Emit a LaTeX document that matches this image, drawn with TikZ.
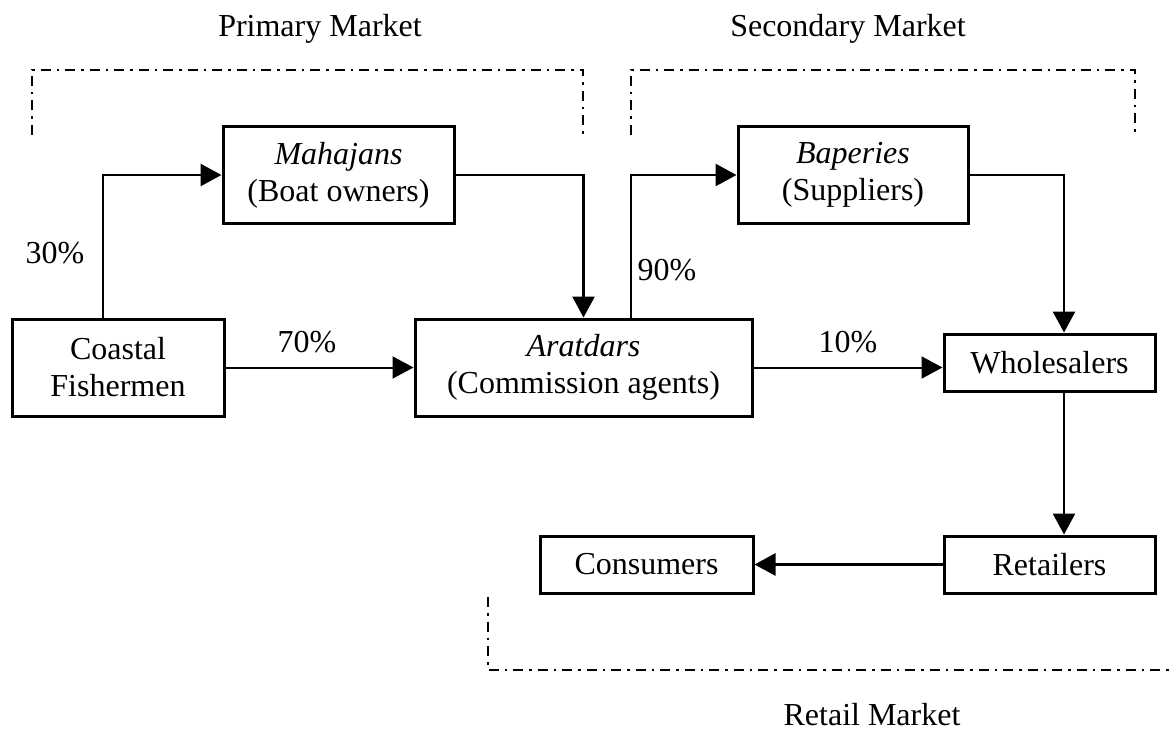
\documentclass[tikz,border=0pt]{standalone}
\usepackage{fontspec}
\setmainfont{Liberation Serif}
\usetikzlibrary{arrows.meta,calc}
\tikzset{
  box/.style={draw, line width=3pt, inner sep=0pt, align=center, font=\fontsize{32}{37}\selectfont},
  flow/.style={line width=2.8pt, -{Triangle[length=21pt,width=22pt]}},
  thinflow/.style={line width=2pt, -{Triangle[length=21pt,width=22pt]}},
  bracket/.style={line width=2.7pt, dash pattern=on 10pt off 6pt on 2.5pt off 6pt},
  lbl/.style={font=\fontsize{32}{37}\selectfont, inner sep=0pt},
}
\begin{document}
\begin{tikzpicture}[x=1pt,y=-1pt]
\useasboundingbox (0,0) rectangle (1173,733);

% boxes
\node[box, minimum width=231pt, minimum height=96pt] (mah) at (338.5,175) {\textit{Mahajans}\\(Boat owners)};
\node[box, minimum width=230pt, minimum height=96pt] (bap) at (853,175) {\textit{Baperies}\\(Suppliers)};
\node[box, minimum width=212pt, minimum height=97pt] (fish) at (118,367.5) {Coastal\\Fishermen};
\node[box, minimum width=337pt, minimum height=97pt] (arat) at (583.5,367.5) {\textit{Aratdars}\\(Commission agents)};
\node[box, minimum width=211pt, minimum height=57pt] (whole) at (1049.5,362.5) {Wholesalers};
\node[box, minimum width=211pt, minimum height=57pt] (ret) at (1049.5,564.5) {Retailers};
\node[box, minimum width=213pt, minimum height=57pt] (con) at (646.5,564.5) {Consumers};

% connectors
\draw[flow] ([xshift=-15pt]fish.north) |- (mah.west);
\draw[flow] (mah.east) -| (arat.north);
\draw[flow] ([xshift=47.5pt]arat.north) |- (bap.west);
\draw[flow] (bap.east) -| ([xshift=14.5pt]whole.north);
\draw[thinflow] (fish.east) -- (arat.west);
\draw[thinflow] (arat.east) -- (arat.east -| whole.west);
\draw[flow] ([xshift=14.5pt]whole.south) -- ([xshift=14.5pt]ret.north);
\draw[flow] (ret.west) -- (con.east);

% percentage labels
\node[lbl] (p30) at (55,253) {30\%};
\node[lbl] (p70) at (307,342) {70\%};
\node[lbl] (p90) at (667,270) {90\%};
\node[lbl] (p10) at (848,342) {10\%};

% market brackets
\draw[bracket] (32,135) -- (32,70) -- (583,70) -- (583,135);
\draw[bracket] (631,135) -- (631,70) -- (1135,70) -- (1135,135);
\draw[bracket] (488,597) -- (488,670) -- (1173,670);

\node[lbl, anchor=base] (pm) at (320,37) {Primary Market};
\node[lbl, anchor=base] (sm) at (848,37) {Secondary Market};
\node[lbl, anchor=base] (rm) at (872,725) {Retail Market};
\end{tikzpicture}
\end{document}
